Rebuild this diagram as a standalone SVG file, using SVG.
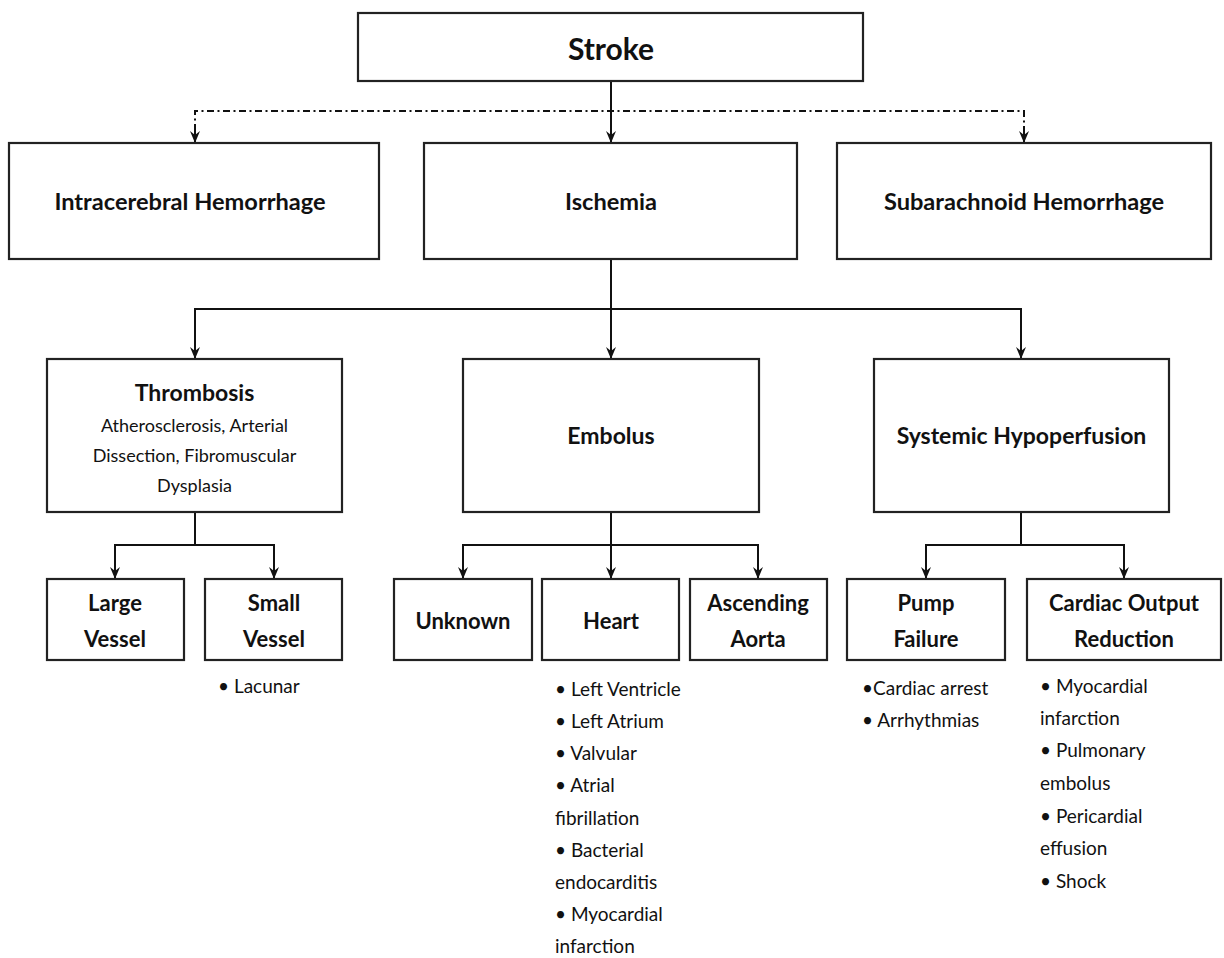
<svg xmlns="http://www.w3.org/2000/svg" width="1224" height="958" viewBox="0 0 1224 958">
<defs>
<marker id="ah" viewBox="0 0 12 10" refX="12" refY="5" markerWidth="12" markerHeight="10" markerUnits="userSpaceOnUse" orient="auto">
<path d="M0,0 L12,5 L0,10 L4,5 Z" fill="#111"/>
</marker>
</defs>
<style>
.box{fill:#fff;stroke:#222;stroke-width:2.2}
.t{font-family:Lato,"Liberation Sans",sans-serif;font-weight:bold;fill:#111;text-anchor:middle}
.r{font-family:Lato,"Liberation Sans",sans-serif;fill:#111}
.rc{font-family:Lato,"Liberation Sans",sans-serif;fill:#111;text-anchor:middle}
.c{fill:none;stroke:#111;stroke-width:2}
.d{fill:none;stroke:#111;stroke-width:2;stroke-dasharray:7 3.5 2 3.5}
</style>
<rect width="1224" height="958" fill="#fff"/>
<g id="connectors">
<path class="c" d="M611,81 V143" marker-end="url(#ah)"/>
<path class="d" d="M195,131 V111 H1024 V131"/>
<path class="c" d="M195,130 V143" marker-end="url(#ah)"/>
<path class="c" d="M1024,130 V143" marker-end="url(#ah)"/>
<path class="c" d="M611,259 V359" marker-end="url(#ah)"/>
<path class="c" d="M195,359 V309 H1021 V359" marker-end="url(#ah)"/>
<path class="c" d="M195,309 V359" marker-end="url(#ah)"/>
<path class="c" d="M195,512 V545"/>
<path class="c" d="M115,579 V545 H274 V579" marker-end="url(#ah)"/>
<path class="c" d="M115,545 V579" marker-end="url(#ah)"/>
<path class="c" d="M611,512 V579" marker-end="url(#ah)"/>
<path class="c" d="M463,579 V545 H758 V579" marker-end="url(#ah)"/>
<path class="c" d="M463,545 V579" marker-end="url(#ah)"/>
<path class="c" d="M1021,512 V545"/>
<path class="c" d="M926,579 V545 H1124 V579" marker-end="url(#ah)"/>
<path class="c" d="M926,545 V579" marker-end="url(#ah)"/>
</g>
<g id="stroke"><rect class="box" x="358" y="13" width="505" height="68"/><text class="t" x="611" y="60" font-size="30">Stroke</text></g>
<g id="intracerebral"><rect class="box" x="9" y="143" width="370" height="116"/><text class="t" x="190" y="210" font-size="23.6">Intracerebral Hemorrhage</text></g>
<g id="ischemia"><rect class="box" x="424" y="143" width="373" height="116"/><text class="t" x="611" y="210" font-size="23.6">Ischemia</text></g>
<g id="subarachnoid"><rect class="box" x="837" y="143" width="374" height="116"/><text class="t" x="1024" y="210" font-size="23.6">Subarachnoid Hemorrhage</text></g>
<g id="thrombosis"><rect class="box" x="47" y="359" width="295" height="153"/>
<text class="t" x="194.5" y="401" font-size="23">Thrombosis</text>
<text class="rc" x="194.5" y="432" font-size="18">Atherosclerosis, Arterial</text>
<text class="rc" x="194.5" y="462" font-size="18">Dissection, Fibromuscular</text>
<text class="rc" x="194.5" y="492" font-size="18">Dysplasia</text></g>
<g id="embolus"><rect class="box" x="463" y="359" width="296" height="153"/><text class="t" x="611" y="444" font-size="23">Embolus</text></g>
<g id="systemic"><rect class="box" x="874" y="359" width="295" height="153"/><text class="t" x="1021.5" y="444" font-size="23">Systemic Hypoperfusion</text></g>
<g id="large-vessel"><rect class="box" x="47" y="579" width="137" height="81"/><text class="t" x="115" y="611" font-size="22">Large</text><text class="t" x="115" y="647" font-size="22">Vessel</text></g>
<g id="small-vessel"><rect class="box" x="205" y="579" width="137" height="81"/><text class="t" x="274" y="611" font-size="22">Small</text><text class="t" x="274" y="647" font-size="22">Vessel</text>
<text class="r" x="218" y="693" font-size="19">• Lacunar</text></g>
<g id="unknown"><rect class="box" x="394" y="579" width="138" height="81"/><text class="t" x="463" y="629" font-size="22">Unknown</text></g>
<g id="heart"><rect class="box" x="542" y="579" width="137" height="81"/><text class="t" x="611" y="629" font-size="22">Heart</text>
<text class="r" x="555" font-size="19"><tspan x="555" y="696">• Left Ventricle</tspan><tspan x="555" y="728">• Left Atrium</tspan><tspan x="555" y="760">• Valvular</tspan><tspan x="555" y="792">• Atrial</tspan><tspan x="555" y="825">fibrillation</tspan><tspan x="555" y="857">• Bacterial</tspan><tspan x="555" y="889">endocarditis</tspan><tspan x="555" y="921">• Myocardial</tspan><tspan x="555" y="953">infarction</tspan></text></g>
<g id="ascending-aorta"><rect class="box" x="690" y="579" width="137" height="81"/><text class="t" x="758" y="611" font-size="22">Ascending</text><text class="t" x="758" y="647" font-size="22">Aorta</text></g>
<g id="pump-failure"><rect class="box" x="847" y="579" width="158" height="81"/><text class="t" x="926" y="611" font-size="22">Pump</text><text class="t" x="926" y="647" font-size="22">Failure</text>
<text class="r" font-size="19"><tspan x="862" y="695">•Cardiac arrest</tspan><tspan x="862" y="727">• Arrhythmias</tspan></text></g>
<g id="cardiac-output"><rect class="box" x="1027" y="579" width="194" height="81"/><text class="t" x="1124" y="611" font-size="22">Cardiac Output</text><text class="t" x="1124" y="647" font-size="22">Reduction</text>
<text class="r" font-size="19"><tspan x="1040" y="693">• Myocardial</tspan><tspan x="1040" y="725">infarction</tspan><tspan x="1040" y="757">• Pulmonary</tspan><tspan x="1040" y="790">embolus</tspan><tspan x="1040" y="823">• Pericardial</tspan><tspan x="1040" y="855">effusion</tspan><tspan x="1040" y="888">• Shock</tspan></text></g>
</svg>
